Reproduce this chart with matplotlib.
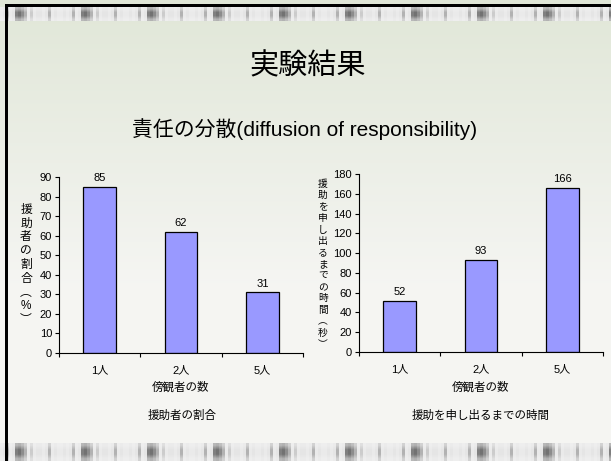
import numpy as np
import matplotlib
matplotlib.use("Agg")
import matplotlib.pyplot as plt
from matplotlib.ticker import FixedLocator, NullFormatter

plt.rcParams['font.family'] = ['Liberation Sans', 'Noto Sans CJK JP', 'DejaVu Sans']

# Data
categories = ["1人", "2人", "5人"]
helper_ratio = [85, 62, 31]          # 援助者の割合 (%)
time_to_help = [52, 93, 166]         # 援助を申し出るまでの時間 (秒)

title = "実験結果"
subtitle = "責任の分散(diffusion of responsibility)"
xlabel = "傍観者の数"
caption_left = "援助者の割合"
caption_right = "援助を申し出るまでの時間"
ylabel_left = "援助者の割合︵%︶"
ylabel_right = "援助を申し出るまでの時間︵秒︶"

W, H = 611, 461
fig = plt.figure(figsize=(W / 100, H / 100), dpi=100)
fig.patch.set_facecolor("white")

# Slide background: soft vertical gradient
bg = fig.add_axes([0, 0, 1, 1], zorder=-10)
bg.set_axis_off()
grad = np.linspace(0, 1, 256)[:, None]
top_c = np.array([0.880, 0.905, 0.845])
low_c = np.array([0.962, 0.962, 0.952])
mix = np.clip(grad * 1.6, 0, 1)[..., None]
img = top_c * (1 - mix) + low_c * mix
img = np.repeat(img, 2, axis=1)
bg.imshow(img, extent=[0, W, 0, H], aspect="auto", origin="upper")

# Decorative striped bands at top and bottom
period = [0.92, 0.9, 0.7, 0.92, 0.9, 0.5, 0.45, 0.55, 0.7, 0.92, 0.8, 0.92,
          0.9, 0.9, 0.92, 0.9, 0.7, 0.92, 0.9, 0.92, 0.92, 0.9]
row = np.tile(np.repeat(period, 3), 12)[:W]
band = np.repeat(row[None, :], 4, axis=0)
band[0] = 0.5 * band[0] + 0.5 * 0.95
band[-1] = 0.5 * band[-1] + 0.5 * 0.95
bg.imshow(np.dstack([band] * 3), extent=[0, W, H - 21, H - 7],
          aspect="auto", interpolation="bilinear")
bg.imshow(np.dstack([band] * 3), extent=[0, W, 0, 17],
          aspect="auto", interpolation="bilinear")
bg.set_xlim(0, W)
bg.set_ylim(0, H)
# black frame on top and left
bg.add_patch(plt.Rectangle((5, H - 7), W, 2.5, color="black", lw=0))
bg.add_patch(plt.Rectangle((5, 0), 2.5, H - 4.5, color="black", lw=0))

fig.text(308 / W, 1 - 66 / H, title, ha="center", va="center", fontsize=21)
fig.text(305 / W, 1 - 129 / H, subtitle, ha="center", va="center", fontsize=15)

bar_color = "#9999FF"


def draw_panel(rect, values, ymax, ystep, ylab, ylab_x, ylab_y, ylab_fs, ylab_ls, caption, cap_x):
    ax = fig.add_axes(rect)
    ax.patch.set_alpha(0)
    x = np.arange(len(categories))
    ax.bar(x, values, width=0.4, color=bar_color, edgecolor="black", linewidth=0.9)
    for xi, v in zip(x, values):
        ax.text(xi, v + ymax * 0.022, str(v), ha="center", va="bottom", fontsize=8)
    ax.set_xlim(-0.5, len(categories) - 0.5)
    ax.set_ylim(0, ymax)
    ax.set_yticks(np.arange(0, ymax + 1, ystep))
    ax.tick_params(axis="y", labelsize=8, length=3, width=0.8, pad=2)
    ax.set_xticks(x)
    ax.set_xticklabels(categories, fontsize=8)
    ax.tick_params(axis="x", which="major", length=0, pad=9)
    ax.xaxis.set_minor_locator(FixedLocator(np.arange(-0.5, len(categories), 1.0)))
    ax.xaxis.set_minor_formatter(NullFormatter())
    ax.tick_params(axis="x", which="minor", length=3, width=0.8)
    for s in ["top", "right"]:
        ax.spines[s].set_visible(False)
    ax.spines["left"].set_linewidth(0.8)
    ax.spines["bottom"].set_linewidth(0.8)
    fig.text(rect[0] + rect[2] / 2, 1 - 388 / H, xlabel, ha="center", va="center", fontsize=8.3)
    fig.text(cap_x / W, 1 - 416 / H, caption, ha="center", va="center", fontsize=8.3)
    fig.text(ylab_x / W, 1 - ylab_y / H, "\n".join(ylab), ha="center", va="center",
             fontsize=ylab_fs, linespacing=ylab_ls)
    return ax


draw_panel([59 / W, 1 - 353 / H, 244 / W, 176 / H], helper_ratio, 90, 10,
           ylabel_left, 26, 265, 8.5, 1.2, caption_left, 182)
draw_panel([359 / W, 1 - 352 / H, 244 / W, 178 / H], time_to_help, 180, 20,
           ylabel_right, 323, 264, 7, 1.18, caption_right, 481)

fig.savefig("out.png", dpi=100)
